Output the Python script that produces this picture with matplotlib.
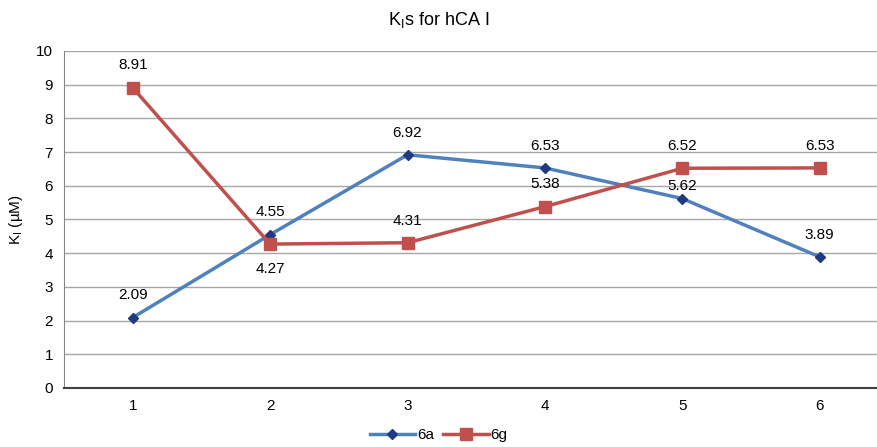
import matplotlib.pyplot as plt

# Data
categories = [1, 2, 3, 4, 5, 6]
series_6a = [2.09, 4.55, 6.92, 6.53, 5.62, 3.89]
series_6g = [8.91, 4.27, 4.31, 5.38, 6.52, 6.53]
# label offsets in points: positive above the point, negative below
off_6a = [16, 16, 16, 16, 9, 16]
off_6g = [16, -18, 16, 16, 16, 16]

plt.rcParams['font.family'] = ['Liberation Sans', 'DejaVu Sans']

fig = plt.figure(figsize=(8.77, 4.47), dpi=100)
ax = fig.add_axes([0.073, 0.132, 0.94, 0.754])

x = list(range(len(categories)))
ax.plot(x, series_6a, color='#4F81BD', linewidth=2.5, marker='D', markersize=5,
        markerfacecolor='#1F3A80', markeredgecolor='#1F3A80', label='6a', zorder=3)
ax.plot(x, series_6g, color='#C0504D', linewidth=2.5, marker='s', markersize=8,
        markerfacecolor='#C0504D', markeredgecolor='#C0504D', label='6g', zorder=3)

for vals, offs in [(series_6a, off_6a), (series_6g, off_6g)]:
    for xi, v, o in zip(x, vals, offs):
        ax.annotate(f"{v:.2f}", (xi, v), xytext=(0, o), textcoords='offset points',
                    ha='center', va='center', fontsize=11)

ax.set_xlim(-0.5, len(categories) - 0.5)
ax.set_ylim(0, 10)
ax.set_yticks(range(0, 11))
ax.set_xticks(x)
ax.set_xticklabels([str(c) for c in categories])
ax.tick_params(axis='both', length=0, labelsize=11, pad=8)
ax.grid(axis='y', color='#A6A6A6', linewidth=1)
ax.set_axisbelow(True)
for s in ['top', 'right']:
    ax.spines[s].set_visible(False)
ax.spines['left'].set_color('#868686')
ax.spines['bottom'].set_color('#404040')
ax.spines['bottom'].set_linewidth(1.5)

ax.set_ylabel('K$_\\mathregular{I}$ (\u00b5M)', fontsize=11, labelpad=8)
fig.text(0.5, 0.955, 'K$_\\mathregular{I}$s for hCA I', ha='center', va='center', fontsize=13)

fig.legend(loc='lower center', bbox_to_anchor=(0.5, -0.02), ncol=2, frameon=False,
           fontsize=11, handlelength=3, columnspacing=0.6, handletextpad=0.1)

fig.savefig('out.png', dpi=100)
